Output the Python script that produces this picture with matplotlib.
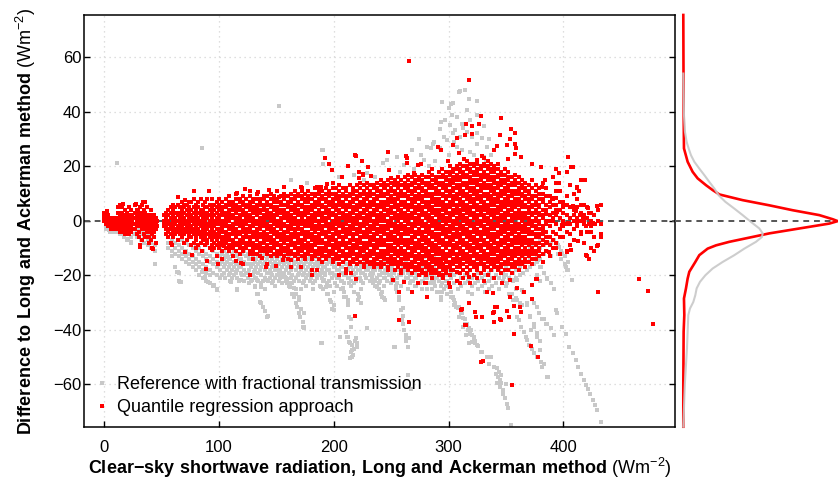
import matplotlib
matplotlib.use("Agg")
import matplotlib.pyplot as plt
from matplotlib.lines import Line2D

plt.rcParams['font.family'] = ['Liberation Sans', 'DejaVu Sans']
plt.rcParams['mathtext.fontset'] = 'custom'
plt.rcParams['mathtext.rm'] = 'Liberation Sans'
plt.rcParams['mathtext.bf'] = 'Liberation Sans:bold'

# ---------------- data ----------------
x_ticks = [0, 100, 200, 300, 400]
y_ticks = [-60, -40, -20, 0, 20, 40, 60]
label_ref = "Reference with fractional transmission"
label_qr = "Quantile regression approach"

# Quantile regression approach: columns "x: y y y ..."
red_a = """
0: 3 1 2 0
1.5: 2 0 -1 3 1
3: 1 -1 0 2 -2
4.5: 0 -2 1 -1
6: -1 -2 0 -3 1
7.5: -2 0 -3 -1
9: -1 -2 1 -3
10.5: 0 -1 -2
12.5: 1 -1 3 -3 0 5
14: 2 -2 -4 6 0
15.5: 0 -1 3 -3 1 5
17: 1 -2 -4 2 -1
18.5: -1 0 2 -3 4 -5
20: 0 -2 1 -4 3
21.5: 2 -1 -3 0 5 -5
23: -1 1 -2 4 -4
24.5: 0 2 -3 1
27: 1 -1 3 -3 6
28.5: 0 2 -2 -5 4
30: -1 1 3 -4 -6
31.5: 2 0 -2 5 -9
33: 1 -1 -3 3 -7 6
34.5: 0 2 -2 -5 4
36: -1 1 -3 -6 3 7
37.5: 0 -2 2 -4 5
39: -1 1 -3 -6 -8
40.5: 0 -2 2 -4 -7 4
42: -1 1 -3 -5 -10
43.5: 0 -2 -4 2 -6
45: -1 1 -3 -8
46.5: 0 -2
52: -2 -1 0 2
54: -5 -3 -2 -1 1 3
56: -6 -4 -3 -1 0 2 4
58: -8 -5 -3 -2 -1 1 3 5
60: -6 -5 -4 -2 -1 0 2 4 6
62: -5 -4 -3 -1 0 1 3 5
64: -7 -4 -3 -2 0 2 3 6
66: -5 -3 -2 -1 1 2 3 5
68: -6 -4 -3 -2 0 1 2 4 7
70: -8 -5 -4 -3 -1 0 1 3 5 6
72: -7 -4 -3 -2 -1 0 2 4 6
74: -6 -5 -3 -2 -1 1 2 3 5 7
76: -9 -6 -4 -3 -2 0 1 2 4 7
78: -8 -5 -4 -3 -1 0 1 3 5 8
80: -10 -7 -6 -4 -2 -1 0 2 4 6
82: -9 -5 -4 -3 -1 0 1 3 5 7
84: -8 -6 -5 -4 -2 -1 0 2 3 4 8
86: -7 -5 -4 -3 -1 0 1 3 4 6
88: -9 -6 -5 -4 -2 -1 0 2 3 5 7
90: -8 -7 -5 -3 -2 -1 1 2 3 5 8
92: -10 -6 -5 -4 -2 -1 0 2 4 6
94: -9 -7 -5 -4 -3 -1 0 1 3 5 8
96: -10 -8 -6 -5 -4 -2 -1 0 2 4 6
98: -9 -7 -6 -5 -3 -1 0 1 3 5 7
"""

red_b = """
100: -10 -9 -8 -6 -5 -4 -3 -1 0 1 2 4 5 6 8
103: -11 -9 -8 -7 -6 -4 -3 -2 -1 0 2 3 4 5 7 -14
106: -10 -8 -7 -6 -5 -4 -2 -1 0 1 2 3 5 6 8
109: -11 -10 -9 -7 -6 -5 -3 -2 0 1 2 3 4 6 7 9
112: -10 -9 -8 -7 -5 -4 -3 -2 -1 1 2 4 5 6 7 -13
115: -11 -9 -8 -6 -5 -4 -3 -1 0 1 3 4 5 6 8 10
118: -12 -10 -9 -8 -7 -5 -4 -2 -1 0 1 2 4 5 7 8
121: -11 -10 -8 -7 -6 -4 -3 -2 -1 0 2 3 4 6 7 9 -16
124: -10 -9 -8 -6 -5 -4 -3 -1 0 1 2 3 5 6 8
127: -12 -11 -9 -8 -7 -6 -4 -3 -2 0 1 2 4 5 6 7 9
130: -11 -10 -9 -8 -6 -5 -4 -2 -1 0 1 3 4 5 7 8 -14
133: -12 -10 -9 -7 -6 -5 -4 -3 -1 0 2 3 4 5 6 8 10
136: -13 -11 -10 -9 -8 -6 -5 -3 -2 -1 0 1 3 4 6 7 8
139: -11 -10 -8 -7 -6 -5 -4 -2 -1 0 1 2 4 5 6 8 9
142: -12 -11 -10 -9 -7 -6 -5 -3 -2 -1 1 2 3 4 6 7 9 -16
145: -13 -11 -10 -8 -7 -6 -4 -3 -2 0 1 2 3 5 6 8 10
148: -12 -10 -9 -8 -7 -5 -4 -3 -1 0 1 2 4 5 7 8 9
151: -13 -12 -11 -9 -8 -6 -5 -4 -2 -1 0 2 3 4 5 7 8 11
154: -12 -11 -10 -9 -7 -6 -5 -3 -2 -1 0 1 3 4 6 7 9
157: -13 -11 -10 -8 -7 -6 -5 -4 -2 -1 1 2 3 4 6 8 9 10
160: -14 -12 -11 -10 -9 -7 -6 -4 -3 -2 0 1 2 3 5 6 7 9
163: -12 -11 -9 -8 -7 -6 -5 -3 -2 -1 0 1 2 4 5 7 8 10 -17
166: -13 -12 -10 -9 -8 -6 -5 -4 -3 -1 0 1 3 4 5 6 8 9 11
169: -14 -12 -11 -10 -8 -7 -6 -5 -3 -2 -1 0 2 3 4 6 7 9 10
172: -13 -11 -10 -9 -8 -7 -5 -4 -3 -1 0 1 2 3 5 6 8 9 12
175: -14 -13 -12 -10 -9 -7 -6 -5 -4 -2 -1 0 2 3 4 5 7 8 10
178: -12 -11 -10 -9 -8 -6 -5 -4 -2 -1 0 1 3 4 5 7 8 9 11
181: -14 -13 -11 -10 -9 -7 -6 -5 -3 -2 -1 0 1 2 4 5 6 8 10 -18
184: -13 -12 -11 -9 -8 -7 -6 -4 -3 -2 0 1 2 3 5 6 7 9 10 12
187: -14 -12 -11 -10 -8 -7 -6 -5 -3 -2 -1 0 2 3 4 6 7 8 10 11
190: -15 -13 -12 -11 -10 -8 -7 -5 -4 -3 -2 0 1 2 3 5 6 8 9 11
193: -14 -13 -11 -10 -9 -8 -6 -5 -4 -2 -1 0 1 3 4 5 7 8 10 12
196: -13 -12 -11 -9 -8 -7 -6 -4 -3 -2 -1 1 2 3 4 6 7 9 10 11
199: -15 -14 -12 -11 -10 -9 -7 -6 -5 -3 -2 -1 0 2 3 5 6 7 8 10 12
"""

red_c = """
202: -14 -13 -12 -10 -9 -8 -7 -5 -4 -3 -1 0 1 2 4 5 6 8 9 10 12
205: -16 -14 -13 -11 -10 -9 -8 -6 -5 -4 -2 -1 0 1 3 4 6 7 8 9 11 13
208: -15 -13 -12 -11 -9 -8 -7 -6 -4 -3 -2 -1 1 2 3 5 6 7 9 10 12
211: -14 -13 -12 -10 -9 -8 -6 -5 -4 -3 -1 0 1 2 4 5 6 8 9 11 12 -19
214: -16 -15 -13 -12 -11 -10 -8 -7 -5 -4 -3 -2 0 1 2 3 5 6 7 9 10 13
217: -15 -14 -12 -11 -10 -9 -7 -6 -5 -3 -2 -1 0 1 3 4 5 7 8 10 11 12
220: -16 -14 -13 -12 -10 -9 -8 -7 -5 -4 -3 -1 0 1 2 4 5 6 8 9 11 13
223: -15 -13 -12 -11 -10 -8 -7 -6 -4 -3 -2 -1 1 2 3 5 6 7 9 10 12 14
226: -17 -16 -14 -13 -11 -10 -9 -8 -6 -5 -4 -2 -1 0 1 3 4 6 7 8 10 11 13
229: -15 -14 -13 -12 -10 -9 -8 -6 -5 -4 -3 -1 0 1 2 4 5 6 8 9 10 12 14
232: -16 -15 -13 -12 -11 -9 -8 -7 -6 -4 -3 -2 0 1 2 3 5 6 7 9 10 11 13
235: -17 -15 -14 -12 -11 -10 -9 -7 -6 -5 -3 -2 -1 0 2 3 4 6 7 8 10 12 13
238: -16 -14 -13 -12 -10 -9 -8 -7 -5 -4 -3 -1 0 1 2 4 5 6 8 9 11 12 14
241: -17 -16 -15 -13 -12 -11 -9 -8 -7 -6 -4 -3 -2 0 1 2 3 5 6 7 9 10 11 13 15
244: -16 -14 -13 -12 -11 -9 -8 -7 -5 -4 -3 -2 0 1 2 4 5 6 7 9 10 12 13 14
247: -18 -17 -15 -14 -12 -11 -10 -9 -7 -6 -5 -3 -2 -1 0 2 3 4 6 7 8 10 11 13 15
250: -16 -15 -14 -13 -11 -10 -9 -7 -6 -5 -4 -2 -1 0 1 3 4 5 7 8 9 11 12 14
253: -18 -16 -15 -14 -12 -11 -10 -8 -7 -6 -4 -3 -2 -1 1 2 3 5 6 7 8 10 11 13 15
256: -17 -16 -15 -13 -12 -11 -9 -8 -7 -5 -4 -3 -2 0 1 2 4 5 6 8 9 10 12 13 14 16
259: -19 -18 -16 -15 -14 -12 -11 -10 -8 -7 -6 -5 -3 -2 -1 1 2 3 4 6 7 9 10 11 13 15
262: -17 -16 -14 -13 -12 -11 -9 -8 -7 -5 -4 -3 -2 0 1 2 3 5 6 7 9 10 12 13 14 16
265: -18 -17 -16 -14 -13 -12 -10 -9 -8 -7 -5 -4 -3 -1 0 1 2 4 5 6 8 9 11 12 13 15 17
268: -19 -17 -16 -15 -13 -12 -11 -10 -8 -7 -6 -4 -3 -2 -1 1 2 3 5 6 7 8 10 11 13 14 16
271: -18 -17 -15 -14 -13 -11 -10 -9 -8 -6 -5 -4 -2 -1 0 1 3 4 5 7 8 9 11 12 14 15 17
274: -20 -18 -17 -16 -14 -13 -12 -10 -9 -8 -7 -5 -4 -3 -1 0 1 2 4 5 6 8 9 10 12 13 15 16
277: -19 -18 -16 -15 -14 -13 -11 -10 -9 -7 -6 -5 -4 -2 -1 0 2 3 4 5 7 8 9 11 12 14 15 17
280: -20 -19 -17 -16 -15 -13 -12 -11 -10 -8 -7 -6 -4 -3 -2 -1 1 2 3 5 6 7 9 10 11 13 14 16
283: -18 -17 -16 -14 -13 -12 -11 -9 -8 -7 -5 -4 -3 -2 0 1 2 4 5 6 7 9 10 12 13 14 16 18
286: -21 -19 -18 -17 -15 -14 -13 -11 -10 -9 -8 -6 -5 -4 -2 -1 0 1 3 4 5 7 8 9 10 12 13 15 17
289: -19 -18 -16 -15 -14 -12 -11 -10 -9 -7 -6 -5 -3 -2 -1 0 2 3 4 6 7 8 10 11 12 14 15 16
292: -20 -19 -17 -16 -15 -14 -12 -11 -10 -8 -7 -6 -5 -3 -2 -1 1 2 3 4 6 7 8 10 11 13 14 16 18
295: -21 -20 -18 -17 -16 -14 -13 -12 -11 -9 -8 -7 -5 -4 -3 -2 0 1 2 4 5 6 7 9 10 12 13 14 16 17
298: -19 -18 -17 -15 -14 -13 -12 -10 -9 -8 -6 -5 -4 -3 -1 0 1 3 4 5 6 8 9 11 12 13 15 16 18
"""

red_d = """
301: -20 -17 -16 -15 -13 -12 -11 -9 -8 -7 -6 -4 -3 -2 0 1 2 3 5 6 7 9 10 11 13 14 15 17 18 20
304: -18 -16 -15 -14 -12 -11 -10 -9 -7 -6 -5 -3 -2 -1 0 2 3 4 6 7 8 9 11 12 14 15 16 18 19
307: -22 -17 -15 -14 -13 -12 -10 -9 -8 -6 -5 -4 -3 -1 0 1 3 4 5 6 8 9 10 12 13 15 16 17 19 20
310: -19 -17 -16 -15 -14 -12 -11 -10 -8 -7 -6 -5 -3 -2 -1 1 2 3 4 6 7 8 10 11 12 13 15 16 18 19 21
313: -21 -18 -16 -14 -13 -12 -11 -9 -8 -7 -5 -4 -3 -2 0 1 2 4 5 6 7 9 10 11 13 14 16 17 18 20
316: -19 -17 -15 -14 -13 -12 -10 -9 -8 -6 -5 -4 -3 -1 0 1 3 4 5 6 8 9 10 12 13 14 16 17 19 20 22
319: -23 -18 -16 -15 -14 -13 -11 -10 -9 -7 -6 -5 -4 -2 -1 0 2 3 4 5 7 8 9 11 12 14 15 16 18 19 21
322: -20 -17 -16 -15 -13 -12 -11 -10 -8 -7 -6 -4 -3 -2 -1 1 2 3 5 6 7 8 10 11 12 14 15 17 18 20 21
325: -21 -18 -17 -16 -14 -13 -12 -10 -9 -8 -7 -5 -4 -3 -1 0 1 2 4 5 6 8 9 10 11 13 14 15 17 18 19 21 22
328: -19 -16 -15 -14 -13 -11 -10 -9 -7 -6 -5 -4 -2 -1 0 2 3 4 5 7 8 9 11 12 13 15 16 17 19 20
331: -22 -18 -17 -16 -14 -13 -12 -11 -9 -8 -7 -5 -4 -3 -2 0 1 2 4 5 6 7 9 10 12 13 14 16 17 18 20 21 23
334: -20 -17 -15 -14 -13 -12 -10 -9 -8 -6 -5 -4 -3 -1 0 1 3 4 5 6 8 9 10 12 13 15 16 17 19 20 22
337: -18 -16 -15 -14 -12 -11 -10 -9 -7 -6 -5 -3 -2 -1 0 2 3 4 6 7 8 9 11 12 13 15 16 18 19 21
340: -21 -17 -16 -15 -14 -12 -11 -10 -8 -7 -6 -5 -3 -2 -1 1 2 3 4 6 7 8 10 11 12 14 15 16 18 19 20
343: -18 -17 -15 -14 -13 -11 -10 -9 -8 -6 -5 -4 -2 -1 0 1 3 4 5 7 8 9 10 12 13 14 16 17 19 21
346: -19 -17 -16 -14 -13 -12 -11 -9 -8 -7 -5 -4 -3 -2 0 1 2 4 5 6 7 9 10 11 13 14 15 17 18
349: -18 -16 -15 -13 -12 -11 -10 -8 -7 -6 -4 -3 -2 -1 1 2 3 5 6 7 8 10 11 12 14 15 17 19
352: -18 -16 -15 -14 -12 -11 -10 -9 -7 -6 -5 -3 -2 -1 0 2 3 4 6 7 8 9 11 12 13 15 16 18
355: -19 -17 -16 -14 -13 -12 -11 -9 -8 -7 -5 -4 -3 -2 0 1 2 4 5 6 7 9 10 11 13 14 16
358: -17 -16 -15 -13 -12 -11 -10 -8 -7 -6 -4 -3 -2 -1 1 2 3 5 6 7 8 10 11 13 14 15 17
361: -18 -16 -15 -14 -12 -11 -10 -8 -7 -6 -5 -3 -2 -1 1 2 3 4 6 7 8 10 11 12 14 16
364: -16 -15 -13 -12 -11 -9 -8 -7 -6 -4 -3 -2 0 1 2 3 5 6 7 9 10 12 13 15
367: -17 -15 -14 -12 -11 -10 -8 -7 -6 -4 -3 -2 -1 1 2 3 5 6 8 9 11 12 14
370: -15 -13 -12 -11 -9 -8 -7 -5 -4 -3 -1 0 1 3 4 5 7 8 10 11 13
373: -16 -14 -12 -11 -10 -8 -7 -5 -4 -2 -1 0 2 3 5 6 8 9 12 15
376: -14 -12 -11 -9 -8 -6 -5 -3 -2 0 1 3 4 6 7 9 11 13
379: -13 -11 -10 -8 -6 -5 -3 -1 0 2 3 5 6 8 10 12
382: -15 -12 -9 -7 -5 -3 -2 1 2 4 7 8 10 14
385: -11 -8 -6 -4 -1 0 3 4 6 9 12
388: -13 -9 -6 -2 0 2 5 7 9
391: -10 -7 -4 0 1 3 6 8 16
394: -8 -5 -1 2 4 6 11 14
397: -12 -6 -3 1 4 7 11
400: -6 -2 0 3 5 7
403: -11 -4 -1 2 6 9 18
406: -9 -5 -1 1 5 13
409: -7 -3 0 2 4 10
412: -2 1 5 8 12
415: -5 0 3 6 15
418: -8 -1 2 6
421: -13 -4 1 5
424: -10 -2 0 3
427: -6 -1 2
430: -9 0 4
433: -5 -1 6
"""

red_out_x = [265.2, 317.9, 345.5, 354.3, 357.7, 345, 353.4, 357.7, 350.8, 342.6, 358.6, 339.7, 357.7, 363.5, 352.2,
             403.9, 406.9, 408.5, 393.5, 395.8, 380.9, 373.1, 415.8, 419, 396.6, 412.3, 413.2, 384.1, 381, 390.5,
             394, 399.7, 408.2, 421.1, 428.9, 422, 410.7, 394.7, 414.4, 416.7, 389, 385.3, 400, 404, 411.7, 418,
             425.5, 427.5, 307.2, 314.2, 320.8, 315, 320, 326.6, 328, 329.5, 325.2, 313.6, 299.9, 293.8, 291,
             304.3, 309.2, 276.4, 263.5, 247.7, 219.2, 225, 192, 196.3, 212, 198.9, 248.5, 264.2, 285.9, 269.9,
             294, 273, 207.6, 225.9, 222.4, 232.3, 250.3, 189.3, 185.8, 171.9, 172.8, 156.8, 194.5, 244.8, 252.6,
             218.6, 229.7, 212.3, 263.1, 221.9, 225.9, 199.8, 78.7, 91.8, 64.8, 115.6, 122.3, 127.2, 133.9, 70.6,
             16.8, 27.9, 34.3, 29.9, 2.3, 143.7, 152.4,
             466, 474, 478.5, 430.6, 355.7, 378.3, 371.4, 356.6, 372.3, 376.6, 339, 339, 345.5, 352.8, 356.6, 363,
             342, 350.5, 353.4, 340, 387.6, 385.6, 393.5, 403, 407, 413.1, 418, 426.8, 433, 429.7, 419.3, 422.7,
             424, 415.3, 419.5, 422.5, 398.4, 382.7, 85.7, 89.4, 89.1, 99.6, 98.2, 94.4, 114.7, 119, 127.2, 141.4,
             150.1, 156.2, 76.9, 104, 130.6, 137.9, 31.4, 43, 58.9, 70.6,
             162.6, 171.3, 181.5, 185.8, 204.7, 210.5, 219.2, 218.4, 214.9, 235.2, 241, 248.3, 251.2, 257, 261.3,
             268.6, 257, 265.7, 273, 280.2, 284.6, 300.5, 302, 310.7, 315.1, 318, 323.8, 328.1, 318, 307.8, 293.3,
             275.9, 279.7, 281.1, 301.4, 309.6, 311.6, 314.5, 323.2, 329, 339.2, 345, 340.6, 329.6, 333.4, 346.4,
             353.7, 359.5, 365.3, 362.4, 372.6, 376.9]
red_out_y = [58.6, 51.9, 37.6, 33.9, 32.1, 31.5, 29.9, 28.4, 27.8, 27.4, 26.6, 26, 24.7, 23.3, 22.6,
             23.6, 19.8, 19.6, 19.2, 17.4, 19.6, 20.7, 14.9, 15.1, 13.9, 12.5, 10.8, 14.9, 12.5, 8.4,
             8.4, 5.5, 5.5, 4.8, 5.3, 2.9, 3.8, 3.3, 2, 1.1, 0, 2.5, -0.7, -0.7, -0.3, -0.2,
             -0.8, -1, 30.5, 31.5, 31.8, 35.7, 34.9, 35.4, 38.4, 23.9, 22.3, 22.7, 21.9, 26.2, 27.2,
             27.8, 24.8, 20.8, 23, 25.1, 23.9, 22, 22.9, 21, 20.2, 18.8, 18.6, 21.4, 18.9, 17.4,
             18.9, 20.4, 16.2, 17.2, 15.6, 16.4, 15.6, 12.4, 12.4, 12.3, 11, 12.5, 13.7, 11.9, 13.7,
             24, 19.9, 20.3, 23.9, 17.8, 16.9, 13.8, 11.1, 11.1, 8.9, 10.4, 11.6, 11.1, 10.6, 7.6,
             6.1, 6.1, 7.1, 3.9, 3.7, 11.5, 8.8,
             -21.5, -25.8, -37.7, -26.3, -60.1, -50.1, -46.1, -41.7, -28.8, -21.5, -26.4, -33.7, -36.5, -35.3, -31.3, -33.4,
             -31.6, -33.2, -28.1, -37, -11.4, -7.6, -9.9, -11.4, -10.8, -7.3, -8, -11, -6.1, -9.3, -12.7, -14.1,
             -4, -4, -2, -1, -1.6, -4.6, -11, -14.7, -17.5, -16, -13, -10.8, -14.7, -15.4, -19.9, -17.1,
             -16.6, -14.4, -12.6, -9.3, -12, -13.8, -9.5, -10.4, -8.9, -11.5,
             -14.4, -16.9, -19.9, -18.1, -19.9, -17.5, -21.2, -34.9, -19.3, -15.7, -13.2, -15.1, -21.8, -26.1, -22.4,
             -26.1, -36.5, -37.1, -23, -23, -19.3, -23, -18.1, -32.8, -38.3, -30.3, -35.2, -51.8, -20.6, -18.7, -14.4,
             -15.7, -23, -27.9, -24.2, -22.8, -32.2, -38.3, -33.4, -35.2, -33.4, -35.9, -31.6, -51.5, -26.1, -23,
             -21.8, -24.8, -26.1, -31.6, -23.6, -21.5]

# Reference with fractional transmission: columns "x: y y y ..."
gray_a = """
2: -1 -3 -2
5: -2 -4 -1
8: -3 -1 -4
11: -2 -4
14: -3 -5 -4
17: -4 -6 -5
20: -5 -7 -3
23: -6 -8 -4
26: -3 -5
29: -4 -3 -6
32: -5 -7
35: -6 -8 -4
38: -7 -9 -5
41: -8 -10 -6
44: -9 -11 -16
56: -6 -8 -10
59: -7 -9 -11 -13
62: -8 -10 -12 -17
65: -9 -11 -13 -19 -22
68: -7 -10 -12 -14
71: -8 -11 -13 -15
74: -9 -12 -14 -16
77: -10 -13 -15 -17
80: -9 -11 -14 -16 -18
83: -10 -12 -15 -17 -20
86: -11 -13 -16 -18 -21
89: -9 -12 -14 -17 -19 -22
92: -10 -13 -15 -18 -20 -23
95: -11 -14 -16 -19 -24
98: -12 -15 -17 -20 -25
"""

gray_b = """
101: -10 -13 -16 -18 -21
104: -11 -14 -17 -19
107: -12 -13 -15 -18
110: -10 -14 -16 -19 -22
113: -11 -15 -17 -20
116: -12 -13 -16 -18 -21 -25
119: -10 -14 -17 -19
122: -11 -15 -18 -20 -22
125: -12 -13 -16 -19 -21
128: -11 -14 -17 -20 -22
131: -12 -15 -18 -21 -24
134: -13 -16 -19 -22 -27
137: -11 -14 -17 -20 -23 -30
140: -12 -15 -18 -21 -25 -33
143: -13 -16 -19 -22 -35
146: -14 -17 -20 -23
149: -12 -15 -18 -21 -24
152: -13 -16 -19 -22
155: -14 -17 -20 -23 -19
158: -12 -15 -18 -21 -22
161: -13 -16 -19 -24
164: -14 -17 -20 -23 -27
167: -15 -18 -21 -25 -30
170: -13 -16 -19 -22 -28 -34
173: -14 -17 -20 -23 -37 -39
176: -15 -18 -21 -24
179: -13 -16 -19 -22
182: -14 -17 -20 -23 -25
185: -15 -18 -21 -13 -16
188: -14 -16 -19 -20 -24
191: -15 -17 -22 -25
194: -16 -18 -23 -27
197: -14 -19 -24 -29
200: -15 -17 -20 -26 -31
"""

gray_c = """
203: -16 -18 -21 -24
206: -17 -19 -22 -25
209: -15 -20 -23 -26 -28
212: -16 -18 -21 -29 -31
215: -17 -19 -22 -24 -36 -39
218: -15 -20 -23 -26
221: -16 -18 -21 -27 -29
224: -17 -19 -22 -25
227: -15 -20 -12 -14
230: -16 -18 -15 -17
233: -17 -19 -21 -20
236: -15 -18 -22 -24
239: -16 -20 -23 -25
242: -17 -19 -26 -28
245: -15 -18 -21 -29
248: -16 -20 -17
251: -17 -19 -21 -22
254: -15 -18 -24 -25
257: -16 -20 -28 -29
260: -17 -19 -32 -35 -38
263: -15 -18 -21 -42 -44
266: -16 -20 -23
269: -17 -19 -22
272: -18 -21 -24
275: -16 -20 -23
278: -17 -19 -13 -22
281: -18 -21 -16 -25
284: -16 -20 -19 -23
287: -17 -22 -23
290: -18 -21 -26
293: -19 -24 -28
296: -17 -20 -25
299: -18 -22 -24 -27
"""

gray_d = """
302: -19 -21 -26 -28
305: -20 -23 -29 -31
308: -19 -22 -25 -32
311: -21 -24 -34
314: -20 -23 -36 -38
317: -19 -22 -26 -40
320: -21 -24 -27 -42
323: -20 -23 -44
326: -19 -22 -25 -46
329: -21 -24 -48
332: -20 -23 -26
335: -19 -22 -25
338: -18 -21 -24
341: -17 -20 -23
344: -18 -21 -25
347: -19 -22
350: -17 -20 -24
353: -18 -21 -27
356: -16 -19 -22 -29
359: -15 -18 -21 -25
362: -14 -17 -20 -30
365: -13 -16 -19 -26
368: -12 -15 -18 -31
371: -10 -14 -17 -35
374: -9 -12 -16 -38
377: -8 -13 -15 -20 -41
380: -7 -10 -14 -17 -22 -44
383: -9 -12 -19 -36
386: -6 -11 -21 -38
389: -8 -13 -23
392: -7 -10 -25
395: -9 -12
398: -11 -14
401: -13 -16
404: -15 -18
"""

gray_e = """
102.5: -12 -15 -20
105.5: -13 -16 -21
108.5: -14 -17 -20
111.5: -12 -18 -21
114.5: -13 -16 -19
117.5: -14 -17 -22
120.5: -12 -15 -20
123.5: -13 -16 -19
126.5: -14 -18 -23
129.5: -13 -16 -20
132.5: -14 -17 -21
135.5: -12 -15 -18
138.5: -13 -16 -22
141.5: -14 -17 -19
144.5: -15 -18 -21
147.5: -13 -16 -22
150.5: -14 -17 -20
153.5: -15 -18 -21
156.5: -14 -16 -20
159.5: -15 -17 -23
162.5: -14 -18 -21
165.5: -15 -16 -22
168.5: -14 -17 -20
171.5: -15 -18 -25
174.5: -16 -19 -22
177.5: -14 -17 -20
180.5: -15 -18 -21
183.5: -16 -19 -22
186.5: -15 -17 -20
189.5: -16 -18 -21
192.5: -17 -20 -19
195.5: -15 -18 -22
198.5: -16 -19 -21
201.5: -17 -20 -23
204.5: -16 -18 -21
207.5: -17 -19 -22
210.5: -16 -18 -20
213.5: -17 -21 -23
216.5: -18 -20
219.5: -17 -19 -22
222.5: -16 -18 -21
225.5: -17 -19 -23
228.5: -18 -21
231.5: -17 -20 -22
234.5: -18 -19 -23
237.5: -17 -21
240.5: -18 -20 -22
243.5: -19 -21 -24
246.5: -17 -19 -22
249.5: -18 -20 -23
252.5: -19 -22
255.5: -18 -21 -23
258.5: -19 -20 -24
261.5: -18 -22
264.5: -19 -21 -25
267.5: -20 -22
270.5: -19 -21 -24
273.5: -20 -23
276.5: -19 -22 -25
279.5: -20 -21
282.5: -19 -23
285.5: -20 -22 -25
288.5: -21 -24
291.5: -20 -22
294.5: -21 -23 -26
297.5: -20 -22
"""

gray_hi_x = [310.1, 314.5, 317.4, 294.2, 304.3, 300, 316, 302.9, 297.1, 307.3, 311.6, 318.9, 324.7, 301.4, 292.7,
             316, 324.7, 304.3, 310.1, 320.3, 329, 298.5, 286.9, 281.1, 292.7, 307.3, 324.7, 333.4, 330.5, 318.9,
             274.4, 287, 284.5, 268.6, 275.8, 278.7, 255.5, 246.8, 261.3, 242.5, 229.4, 226.5, 190.2, 162.6, 152.7,
             85.6, 11.6, 191, 191, 309.2, 302, 293, 306, 305, 313, 296, 288, 300, 312, 322, 283, 270, 258, 236,
             218, 205, 177, 325, 331, 335, 337, 328, 333]
gray_hi_y = [47.8, 48, 44.9, 43.7, 43.1, 41.3, 40.7, 38.8, 37, 38.2, 35.7, 37, 38.8, 35.1, 33.9,
             32.7, 32.1, 32.1, 30.9, 30.9, 30.3, 29.6, 28.4, 27.2, 26.6, 27.2, 28.4, 27.2, 23.5, 25.4,
             29.9, 29, 26.6, 26.2, 24.1, 22.3, 23.5, 22.3, 20.5, 21.2, 17.4, 14.9, 26.2, 14.9, 42.1,
             26.6, 21.1, 26.2, 21, 47.4, 43, 36.4, 33.3, 29, 34, 30.8, 22, 24, 26, 24, 20, 19, 18, 16,
             17, 16, 14, 44, 35, 30, 24, 20, 22]

gray_st_x = [333.9, 337.4, 335.4, 339.7, 342, 344.1, 341.2, 345.5, 343.2, 345, 342.6, 346.1, 349.9, 344.6, 347,
             347.8, 349, 350.7, 351.9, 354.2,
             360, 361.5, 363.5, 365.8, 367.3, 368.7, 370.2, 373.1, 374.6, 376.9, 380.4, 381.8, 386.2, 371.6, 359.5,
             363.9, 368.2, 371.1, 374, 377, 379.8, 382.8, 385.7,
             370.2, 373.1, 375.1, 377.5, 380.4, 383.3, 385.6, 374.6, 376.9, 378.9, 381.8, 384.7, 389.1, 392, 393.4,
             394.9,
             392, 394.3, 396.3, 398.4, 402.1, 403.6, 407.1, 399.2, 402.1, 405, 408, 410.9, 412.9, 415.2, 418.1,
             419.6, 421.6, 423.3, 425.4, 427.4, 429.7, 433.2,
             348.4, 351.3, 357.1, 358.6, 360, 364.4, 355.7,
             304.3, 305.8, 308.7, 311.6, 313, 316, 317.4, 318.9, 321.8, 323.2, 320.3, 287, 290, 292, 295, 298,
             156.8, 159.7, 162.6, 165.5, 167, 169.9, 171.3, 174.2, 184.4, 185.8, 188.7, 191.6, 193, 194.6, 197.5,
             198.9, 188.7, 200.4, 208.5, 210.5, 212, 213.4, 214.9, 210.5, 212, 213.4, 216.3, 217.8, 214.9, 219.2,
             220.7, 216.3, 222.1, 223.6, 228, 230.9, 232.3, 235.2, 238.1, 241, 243.9, 249.7, 252.6, 255.5, 257,
             258.4, 259.9, 261.3, 262.8, 264.8, 264.8, 267.2, 278.8, 281.7, 284.6, 287.5, 290.4, 293.3, 300.5,
             303.5, 306.4, 309.3, 312.2, 315.1, 318, 319.4, 322.3, 325.2, 328.1, 174.2, 188.7, 252.6, 265.7,
             64.8, 66.2, 85.1, 88, 90.9, 95.3, 98.2, 115.6, 128.6, 131.6, 133, 135.9, 138.8, 141.7, 157.7, 162,
             165, 167.9, 170.8, 173.7, 189.6, 205.6, 211.4, 214.3, 215.8, 217.2, 218.6, 220, 214.3, 228.8, 253.5,
             4.4, 7.3, 17.4, 20.4, 23.3, 14.5, 29.1, 33.4, 39.2, 42.1, 44.2, 63.9, 66.8, 107.5, 110.4, 114.7,
             110.4, 119, 127.8, 130.7, 133.6, 136.5, 140.9, 145.2, 149.6, 153.9]
gray_st_y = [-49.9, -49.9, -52.4, -53.6, -54.2, -55.4, -56.3, -56.7, -57.3, -58.5, -59.7, -59.7, -60, -60.9, -62.2,
             -63.4, -65.2, -67.1, -68.9, -75,
             -35.2, -36.5, -38.9, -40.7, -42.6, -43.8, -45.6, -46.9, -48.7, -49.9, -51.8, -53.6, -57.3, -40.1, -21.8,
             -25.5, -30.3, -35.2, -38.9, -42.6, -47.5, -52.4, -57.3,
             -7.1, -9.5, -12, -14.4, -16.9, -19.3, -21.5, -30.3, -31.8, -34, -35.9, -37.7, -39.2, -42, -32.8,
             -34,
             -7.1, -8.3, -9.5, -12, -16.9, -18.1, -21.8, -38.9, -41.4, -46.3, -48.7, -51.2, -53.6, -56.1, -58.5,
             -60.3, -61.6, -63.4, -65.8, -67.7, -69.5, -73.8,
             -20.5, -23, -21.8, -28.5, -29.1, -31, -26.7,
             -28.5, -30.3, -31.5, -34, -35.8, -37.7, -39.5, -41.4, -43.8, -45, -44.5, -13, -16, -19, -21, -24,
             -19.3, -21.2, -23, -24.8, -26.7, -29.1, -32.2, -34, -13.2, -16.3, -19.3, -21.8, -24.2, -26.7, -29.7,
             -32.2, -24.2, -32.8, -24.8, -27.9, -30.3, -35.2, -38.9, -40.8, -42.6, -44.4, -45.6, -46.9, -48.1, -43.2,
             -45, -50, -27.9, -30.3, -12, -15.7, -19.3, -21.8, -24.2, -26.7, -28.5, -18.1, -21.8, -26.1, -29.1,
             -32.8, -36.5, -40.1, -43.2, -46.3, -56.7, -61.6, -13.2, -16.9, -19.9, -23, -26.1, -29.1, -24.2,
             -27.9, -31.6, -35.2, -38.9, -42, -45, -40.1, -42.6, -45.6, -48.1, -38.9, -45, -46.3, -43.2,
             -18.7, -22.4, -18.7, -20.6, -22.4, -23.6, -25.5, -25.5, -21.8, -24.2, -26.7, -29.7, -31.6, -35.2, -20.6, -24.2,
             -27.9, -31.6, -35.2, -39.5, -45, -42.6, -42.6, -45, -47.5, -49.3, -44, -46.5, -50.5, -39.5, -46.3,
             -3.4, -2.8, -5.2, -6.5, -7.7, -4, -3.4, -4, -8.3, -10.1, -15.7, -18.7, -22.4, -13.2, -15.7, -18.7,
             -22.4, -21.8, -15.7, -18.7, -21.8, -24.2, -21.8, -19.3, -17.5, -20.6]

# marginal densities (y value, relative density)
dens_red_y = [75.6, 40, 26.6, 21.7, 18.0, 15.6, 13.1, 11.3, 9.7, 8.8, 7.6, 5.7, 3.9, 2.1, 0.6, -0.1, -1.0,
              -2.2, -3.4, -4.6, -5.9, -7.7, -9.0, -10.2, -12.6, -15.1, -18.7, -21.2, -24.8, -28.5, -34.6, -40.7,
              -60, -75.6]
dens_red_d = [0, 1, 2, 13, 28, 43, 68, 88, 108, 138, 178, 258, 328, 408, 448, 463, 438,
              378, 318, 258, 208, 138, 98, 73, 48, 36, 18, 13, 8, 2, 3, 1, 0, 0]
dens_gray_y = [54.1, 38.8, 32.7, 29.0, 26.6, 24.1, 21.7, 19.2, 16.8, 14.3, 11.9, 9.4, 7.0, 4.5, 2.1, -0.4,
               -2.8, -4.6, -5.9, -7.7, -10.2, -12.6, -15.1, -17.5, -20.0, -22.4, -24.8, -27.3, -29.8, -32.2,
               -34.6, -40.7, -46.9, -53.0, -59.1, -65.2, -75.6]
dens_gray_d = [0, 2, 5, 10, 16, 23, 33, 48, 63, 78, 93, 106, 126, 153, 178, 203,
               228, 238, 236, 218, 183, 153, 118, 88, 66, 50, 40, 36, 30, 20,
               15, 13, 11, 8, 5, 3, 0]


def parse_cols(*blocks):
    xs, ys = [], []
    for b in blocks:
        for line in b.strip().splitlines():
            xv, rest = line.split(':')
            for v in rest.split():
                xs.append(float(xv))
                ys.append(float(v))
    return xs, ys


rx, ry = parse_cols(red_a, red_b, red_c, red_d)
rx += red_out_x
ry += red_out_y
gx, gy = parse_cols(gray_a, gray_b, gray_c, gray_d, gray_e)
gx += gray_hi_x + gray_st_x
gy += gray_hi_y + gray_st_y

RED = '#ff0000'
GRAY = '#c8c8c8'
XL = (-17.5, 497.5)
YL = (-75.7, 75.7)

fig = plt.figure(figsize=(8.38, 4.87), dpi=100)
ax = fig.add_axes([84 / 838, 60 / 487, 591.3 / 838, 412.3 / 487])
ax.set_xlim(*XL)
ax.set_ylim(*YL)

for xv in x_ticks:
    ax.axvline(xv, color='#d4d4d4', lw=0.9, ls=(0, (1, 3)), zorder=0)
for yv in y_ticks:
    if yv != 0:
        ax.axhline(yv, color='#d4d4d4', lw=0.9, ls=(0, (1, 3)), zorder=0)

ax.plot(gx, gy, ls='none', marker='s', ms=2.3, mew=0, color=GRAY, zorder=2)
ax.axhline(0, color='#555555', lw=1.4, ls=(0, (3, 2.5)), zorder=2.5)
ax.plot(rx, ry, ls='none', marker='s', ms=3.2, mew=0, color=RED, zorder=3)

ax.set_xticks(x_ticks)
ax.set_yticks(y_ticks)
ax.tick_params(axis='both', direction='in', length=4, width=1, labelsize=12, colors='black')
ax.tick_params(axis='y', right=True, left=True, pad=2)
ax.tick_params(axis='x', top=False, bottom=True, pad=9)
for s in ax.spines.values():
    s.set_linewidth(1.1)
    s.set_color('black')

handles = [Line2D([], [], ls='none', marker='s', ms=3.2, mew=0, color=GRAY),
           Line2D([], [], ls='none', marker='s', ms=3.2, mew=0, color=RED)]
ax.legend(handles, [label_ref, label_qr], loc='lower left', bbox_to_anchor=(0.021, 0.027),
          frameon=False, fontsize=13, handlelength=0.6, handletextpad=0.53, labelspacing=0.3,
          borderpad=0, borderaxespad=0)

fig.text(379.6 / 838, 1 - 468 / 487,
         r"$\mathbf{Clear{-}sky\ shortwave\ radiation{,}\ Long\ and\ Ackerman\ method}$ (Wm$^{-2}$)",
         ha='center', va='center', fontsize=13)
fig.text(26 / 838, 1 - 221 / 487,
         r"$\mathbf{Difference\ to\ Long\ and\ Ackerman\ method}$ (Wm$^{-2}$)",
         ha='center', va='center', rotation=90, fontsize=13)

# marginal density panel
mx = fig.add_axes([675.3 / 838, 60 / 487, 162.4 / 838, 412.3 / 487])
mx.set_xlim(-24, 463)
mx.set_ylim(*YL)
mx.axis('off')
mx.axhline(0, color='#555555', lw=1.4, ls=(0, (3, 2.5)), zorder=1)
mx.plot(dens_red_d, dens_red_y, color=RED, lw=1.9, clip_on=False, zorder=2)
mx.plot(dens_gray_d, dens_gray_y, color=GRAY, lw=1.5, clip_on=False, zorder=3, alpha=0.9)

fig.savefig('out.png', dpi=100)
